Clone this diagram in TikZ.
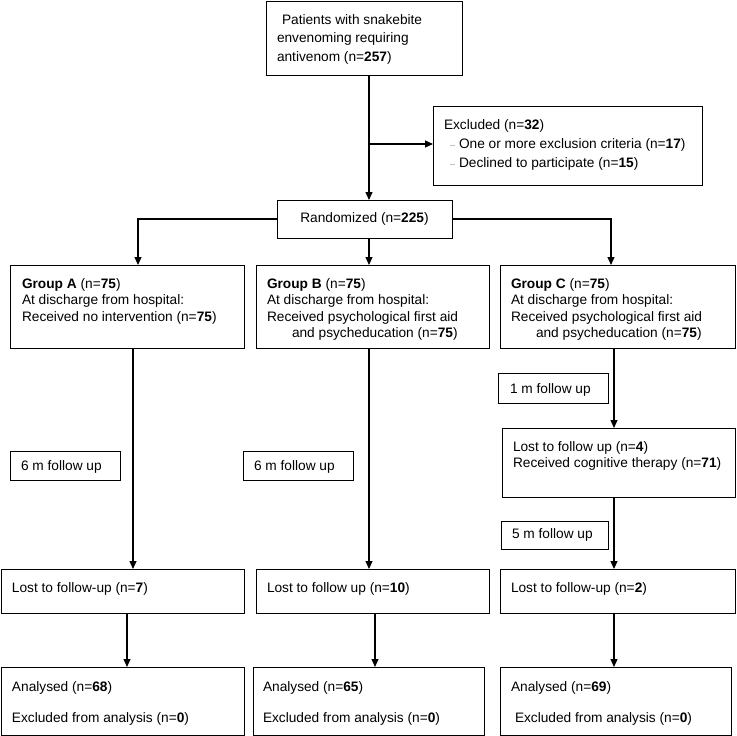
\documentclass[tikz,border=0pt]{standalone}
\usepackage{fontspec}
\setmainfont{Liberation Sans}
\usetikzlibrary{arrows.meta}
\newcommand\exdash{{\color{gray!80}\fontsize{9}{9}\selectfont –}}
\newcommand\fsz[1]{\fontsize{13.7}{#1}\selectfont}
\newcommand\bx[5]{\node[boxst, minimum width={(#4-#2)*1pt}, minimum height={(#5-#3)*1pt}] (#1) at ({(#2+#4)/2},{(#3+#5)/2}) {};}
\tikzset{
  boxst/.style={draw=black, line width=0.9pt, fill=white, inner sep=0pt, outer sep=0pt},
  txt/.style={inner sep=0pt, outer sep=0pt, align=left, font=\fsz{16.5}},
  arr/.style={draw=black, line width=1.1pt, -{Triangle[length=8pt,width=7pt]}},
}
\begin{document}
\begin{tikzpicture}[x=1pt,y=-1pt]
\useasboundingbox[fill=white] (0,0) rectangle (737,736);
% boxes
\bx{top}{266}{1}{462}{75}
\bx{excl}{433}{106}{702}{185}
\bx{gA}{10}{265}{244}{348}
\bx{gB}{256}{265}{489}{348}
\bx{gC}{500}{265}{735}{348}
\bx{fone}{498}{373}{608}{403}
\bx{lc}{502}{428}{735}{497}
\bx{ffive}{501}{521}{608}{549}
\bx{fsixA}{10}{451}{120}{480}
\bx{fsixB}{243}{451}{353}{480}
\bx{lA}{1}{569}{244}{613}
\bx{lB}{256}{569}{489}{613}
\bx{lC}{500}{569}{735}{613}
\bx{aA}{1}{667}{244}{735}
\bx{aB}{253}{667}{484}{735}
\bx{aC}{500}{667}{731}{735}
\node[boxst, minimum width=175pt, minimum height=38pt, font=\fsz{16}] (rand) at (364.5,219) {Randomized (n=\textbf{225})};
% texts
\node[txt, anchor=north west, font=\fsz{18.5}] (ttop) at (277,14.5) {\hspace*{5pt}Patients with snakebite\\envenoming requiring\\antivenom (n=\textbf{257})};
\node[txt, anchor=north west, font=\fsz{19}] (texcl) at (444,119.5) {Excluded (n=\textbf{32})\\\hspace*{6pt}\makebox[9pt][l]{\exdash}One or more exclusion criteria (n=\textbf{17})\\\hspace*{6pt}\makebox[9pt][l]{\exdash}Declined to participate (n=\textbf{15})};
\node[txt, anchor=north west] (tgA) at (22,278.5) {\textbf{Group A} (n=\textbf{75})\\At discharge from hospital:\\Received no intervention (n=\textbf{75})};
\node[txt, anchor=north west] (tgB) at (267,278.5) {\textbf{Group B} (n=\textbf{75})\\At discharge from hospital:\\Received psychological first aid\\\hspace*{25pt}and psycheducation (n=\textbf{75})};
\node[txt, anchor=north west] (tgC) at (511,278.5) {\textbf{Group C} (n=\textbf{75})\\At discharge from hospital:\\Received psychological first aid\\\hspace*{25pt}and psycheducation (n=\textbf{75})};
\node[txt, anchor=base west] (tfone) at (510,393.5) {1 m follow up};
\node[txt, anchor=north west, font=\fsz{16}] (tlc) at (513,441.5) {Lost to follow up (n=\textbf{4})\\Received cognitive therapy (n=\textbf{71})};
\node[txt, anchor=base west] (tffive) at (512,538.5) {5 m follow up};
\node[txt, anchor=base west] (tfsixA) at (21,470.5) {6 m follow up};
\node[txt, anchor=base west] (tfsixB) at (254,470.5) {6 m follow up};
\node[txt, anchor=base west] (tlA) at (12,592.5) {Lost to follow-up (n=\textbf{7})};
\node[txt, anchor=base west] (tlB) at (267,592.5) {Lost to follow up (n=\textbf{10})};
\node[txt, anchor=base west] (tlC) at (511,592.5) {Lost to follow-up (n=\textbf{2})};
\node[txt, anchor=north west, font=\fsz{31}] (taA) at (12,681.5) {Analysed (n=\textbf{68})\\Excluded from analysis (n=\textbf{0})};
\node[txt, anchor=north west, font=\fsz{31}] (taB) at (263,681.5) {Analysed (n=\textbf{65})\\Excluded from analysis (n=\textbf{0})};
\node[txt, anchor=north west, font=\fsz{31}] (taC) at (511,681.5) {Analysed (n=\textbf{69})\\\hspace*{4pt}Excluded from analysis (n=\textbf{0})};
% connector coordinates
\coordinate (ex) at (369,144);
\coordinate (cA) at (138,0);
\coordinate (cC) at (611,0);
\coordinate (cA2) at (133,0);
\coordinate (cC2) at (614,0);
\coordinate (cA3) at (127,0);
\coordinate (cB3) at (375,0);
% connectors
\draw[arr] (top.south -| ex) -- (rand.north -| ex);
\draw[arr] (ex) -- (excl.west |- ex);
\draw[arr] (rand.west) -| (gA.north -| cA);
\draw[arr] (rand.south -| ex) -- (gB.north -| ex);
\draw[arr] (rand.east) -| (gC.north -| cC);
\draw[arr] (gA.south -| cA2) -- (lA.north -| cA2);
\draw[arr] (gB.south -| ex) -- (lB.north -| ex);
\draw[arr] (gC.south -| cC2) -- (lc.north -| cC2);
\draw[arr] (lc.south -| cC2) -- (lC.north -| cC2);
\draw[arr] (lA.south -| cA3) -- (aA.north -| cA3);
\draw[arr] (lB.south -| cB3) -- (aB.north -| cB3);
\draw[arr] (lC.south -| cC2) -- (aC.north -| cC2);
\end{tikzpicture}
\end{document}
